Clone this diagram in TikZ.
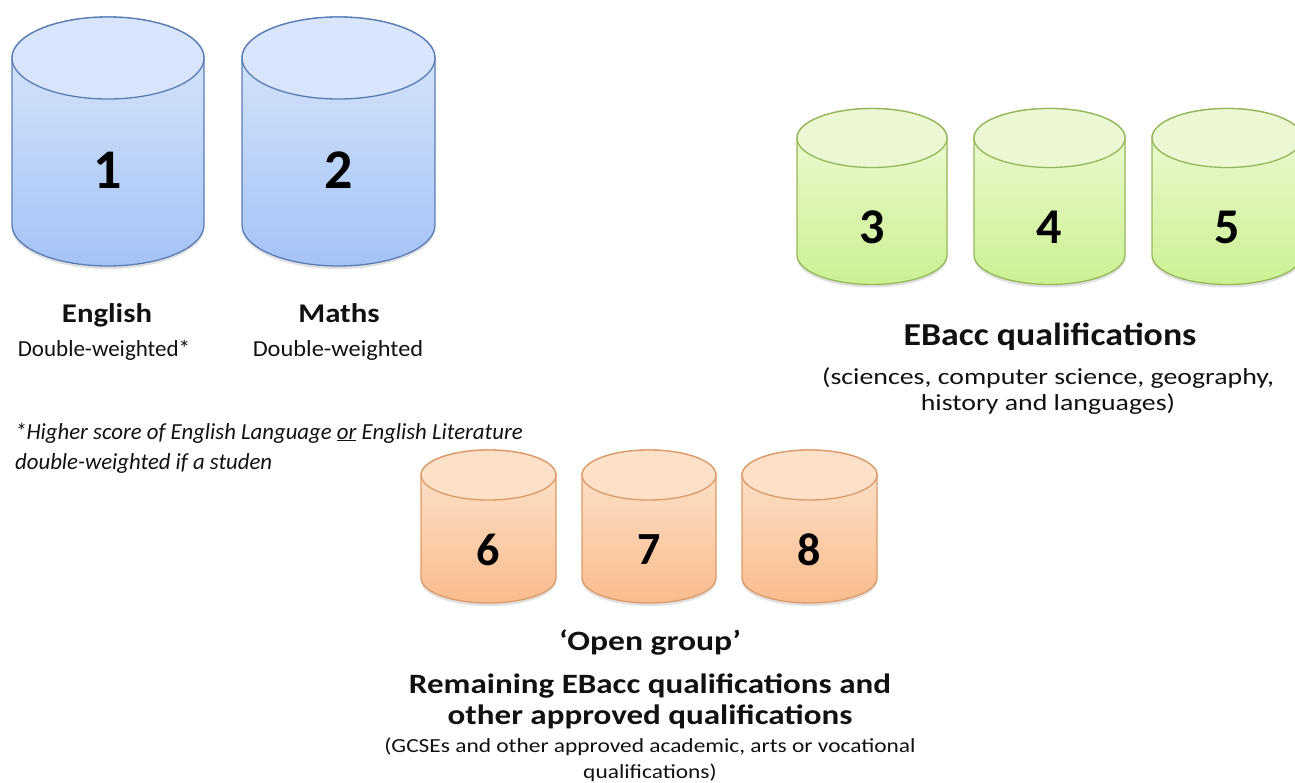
\documentclass[tikz,border=0pt]{standalone}
\usepackage{fontspec}
\usepackage{graphicx}
\setmainfont{Carlito}
\usetikzlibrary{shadows}
\definecolor{bluetop}{HTML}{DCE8FB}
\definecolor{bluebot}{HTML}{A4C3F6}
\definecolor{bluecap}{HTML}{D8E5FA}
\definecolor{blueline}{HTML}{5A7CB6}
\definecolor{greentop}{HTML}{EEFAD8}
\definecolor{greenbot}{HTML}{CCF192}
\definecolor{greencap}{HTML}{EBF8D3}
\definecolor{greenline}{HTML}{95B75A}
\definecolor{orangetop}{HTML}{FDE5D0}
\definecolor{orangebot}{HTML}{F9BC8D}
\definecolor{orangecap}{HTML}{FCE0C8}
\definecolor{orangeline}{HTML}{DB9B69}
\definecolor{txt}{HTML}{111111}
\newcommand\hs[3][c]{\scalebox{#2}[1]{\begin{tabular}{@{}#1@{}}#3\end{tabular}}}
\tikzset{
  num/.style={font=\bfseries\fontsize{#1}{#1}\selectfont, text=black, inner sep=0pt},
  lbl/.style={font=\bfseries\fontsize{#1}{31}\selectfont, text=txt, inner sep=0pt},
  sub/.style={font=\fontsize{#1}{26}\selectfont, text=txt, inner sep=0pt},
  foot/.style={font=\itshape\fontsize{23}{30}\selectfont, text=txt, inner sep=0pt, anchor=west},
  cylshadow/.style={drop shadow={opacity=0.12, shadow xshift=0pt, shadow yshift=-3pt, fill=black}},
}
% #1 name, #2 cx, #3 top y, #4 rx, #5 ry, #6 bottom y, #7 colour prefix, #8 number y, #9 number size
\newcommand\mycyl[9]{%
  \path[cylshadow, draw=#7line, line width=1.3pt, top color=#7top, bottom color=#7bot]
    (#2-#4,#3) -- (#2-#4,#6) arc[start angle=180,end angle=0,x radius=#4,y radius=#5]
    -- (#2+#4,#3) arc[start angle=0,end angle=-180,x radius=#4,y radius=#5] -- cycle;
  \draw[draw=#7line, line width=1.3pt, fill=#7cap] (#2,#3) ellipse[x radius=#4,y radius=#5];
  \node[num=#9] (#1) at (#2,#8) {#1};
}
\begin{document}
\begin{tikzpicture}[x=1pt,y=-1pt]
\path[use as bounding box] (0,0) rectangle (1295,783);
\clip (0,0) rectangle (1295,783);
% blue
\mycyl{1}{108}{58}{96}{41}{225}{blue}{170}{56}
\mycyl{2}{338.5}{58}{96.5}{41}{225}{blue}{170}{56}
% green
\mycyl{3}{872}{138}{75}{29.5}{255}{green}{227}{50}
\mycyl{4}{1049.5}{138}{75.5}{29.5}{255}{green}{227}{50}
\mycyl{5}{1227}{138}{75}{29.5}{255}{green}{227}{50}
% orange
\mycyl{6}{488.5}{475}{67.5}{25}{578}{orange}{550}{46}
\mycyl{7}{649}{475}{67}{25}{578}{orange}{550}{46}
\mycyl{8}{809.5}{475}{67.5}{25}{578}{orange}{550}{46}
% labels
\node[lbl=27] (eng) at (107,316) {\hs{1.14}{English}};
\node[sub=23] (engs) at (104,351) {\hs{1.0}{Double-weighted*}};
\node[lbl=27] (mat) at (339,316) {\hs{1.14}{Maths}};
\node[sub=23] (mats) at (338,351) {\hs{1.06}{Double-weighted}};
\node[lbl=32] (eb) at (1050,339) {\hs{1.12}{EBacc qualifications}};
\node[sub=23] (ebs) at (1048,392) {\hs{1.21}{(sciences, computer science, geography,\\history and languages)}};
\node[foot] (fn1) at (15,433) {\hs[l]{0.99}{*Higher score of English Language \underline{or} English Literature}};
\node[foot] (fn2) at (15,463) {\hs[l]{0.99}{double-weighted if a studen}};
\node[lbl=28] (og) at (650,644) {\hs{1.2}{‘Open group’}};
\node[lbl=28] (og2) at (650,703) {\hs{1.18}{Remaining EBacc qualifications and\\other approved qualifications}};
\node[sub=20] (og3) at (650,760) {\hs{1.17}{(GCSEs and other approved academic, arts or vocational\\qualifications)}};
\end{tikzpicture}
\end{document}
